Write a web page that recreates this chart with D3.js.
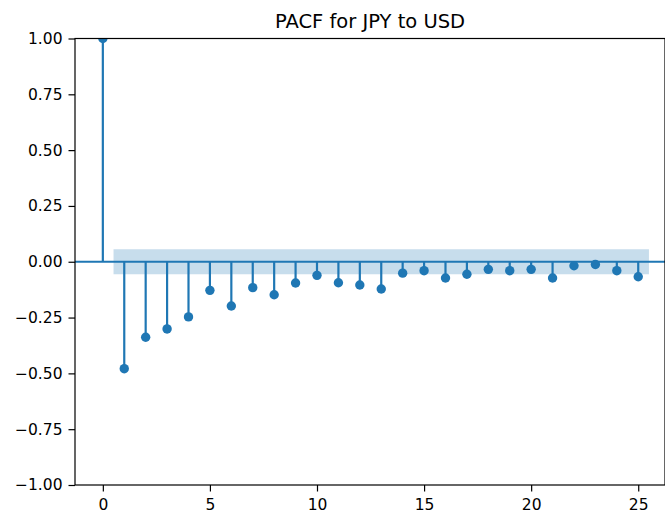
<!DOCTYPE html>
<html lang="en">
<head>
<meta charset="UTF-8">
<title>PACF for JPY to USD</title>
<style>
  body { margin: 0; background: #fff; }
  text { font-family: "DejaVu Sans", sans-serif; fill: #000; }
</style>
</head>
<body>
<svg id="chart" width="665" height="513"></svg>
<script src="https://cdn.jsdelivr.net/npm/d3@7/dist/d3.min.js"></script>
<script>
// lags and partial autocorrelation values
var lags = d3.range(0, 26);
var pacf = [1.0, -0.479, -0.338, -0.301, -0.247, -0.128, -0.198, -0.116, -0.148, -0.095,
            -0.061, -0.094, -0.104, -0.122, -0.051, -0.040, -0.073, -0.056, -0.034, -0.040,
            -0.034, -0.073, -0.018, -0.012, -0.040, -0.067];
var confBand = [-0.056, 0.056];
var xTicks = [0, 5, 10, 15, 20, 25];
var yTicks = [-1, -0.75, -0.5, -0.25, 0, 0.25, 0.5, 0.75, 1];

var blue = "#1f77b4";
var mLeft = 75, mRight = 665, mTop = 38.5, mBottom = 485;

var svg = d3.select("#chart");

var x = d3.scaleLinear().domain([-1.3, 26.25]).range([mLeft, mRight]);
var y = d3.scaleLinear().domain([-1, 1]).range([mBottom, mTop]);

svg.append("clipPath").attr("id", "clip")
  .append("rect").attr("x", mLeft).attr("y", mTop)
  .attr("width", mRight - mLeft).attr("height", mBottom - mTop);

var plot = svg.append("g").attr("clip-path", "url(#clip)");

// confidence band
plot.append("rect")
  .attr("x", x(0.5)).attr("width", x(25.5) - x(0.5))
  .attr("y", y(confBand[1])).attr("height", y(confBand[0]) - y(confBand[1]))
  .attr("fill", blue).attr("fill-opacity", 0.25);

// zero line
plot.append("line")
  .attr("x1", mLeft).attr("x2", mRight)
  .attr("y1", y(0)).attr("y2", y(0))
  .attr("stroke", blue).attr("stroke-width", 2.2);

// stems
plot.selectAll(".stem").data(lags).enter().append("line")
  .attr("class", "stem")
  .attr("x1", function(d){ return x(d); }).attr("x2", function(d){ return x(d); })
  .attr("y1", y(0)).attr("y2", function(d, i){ return y(pacf[i]); })
  .attr("stroke", blue).attr("stroke-width", 2.2);

// markers
plot.selectAll(".dot").data(lags).enter().append("circle")
  .attr("class", "dot")
  .attr("cx", function(d){ return x(d); })
  .attr("cy", function(d, i){ return y(pacf[i]); })
  .attr("r", 4.7)
  .attr("fill", blue);

// axes
var xAxis = d3.axisBottom(x).tickValues(xTicks).tickSize(6.5).tickPadding(7).tickFormat(d3.format("d"));
var yAxis = d3.axisLeft(y).tickValues(yTicks).tickSize(6.5).tickPadding(6).tickFormat(d3.format(".2f"));

var gx = svg.append("g").attr("transform", "translate(0," + mBottom + ")").call(xAxis);
var gy = svg.append("g").attr("transform", "translate(" + mLeft + ",0)").call(yAxis);
[gx, gy].forEach(function(g){
  g.select(".domain").remove();
  g.selectAll("line").attr("stroke", "#000").attr("stroke-width", 1.2);
  g.selectAll("text").style("font-size", "15.5px").style("font-family", "DejaVu Sans");
});

// frame
svg.append("rect")
  .attr("x", mLeft).attr("y", mTop)
  .attr("width", mRight - mLeft).attr("height", mBottom - mTop)
  .attr("fill", "none").attr("stroke", "#000").attr("stroke-width", 1.2);

// title
svg.append("text")
  .attr("x", (mLeft + mRight) / 2).attr("y", 28)
  .attr("text-anchor", "middle")
  .style("font-size", "19.5px")
  .text("PACF for JPY to USD");
</script>
</body>
</html>
